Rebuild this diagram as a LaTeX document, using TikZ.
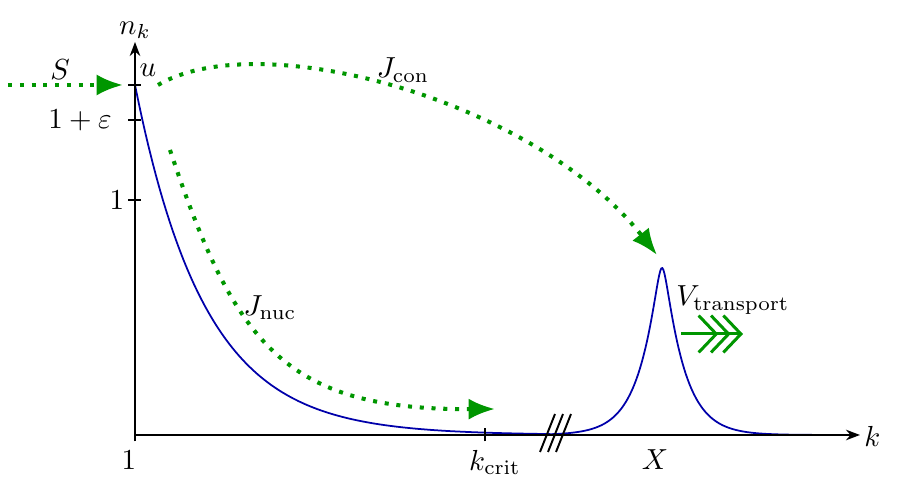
\documentclass[tikz,border=0pt]{standalone}
\usetikzlibrary{arrows.meta}
\definecolor{fluxgreen}{RGB}{0,150,0}
\definecolor{curveblue}{RGB}{0,0,170}
\tikzset{
  axis/.style={line width=1.1pt,-{Stealth[length=8pt,width=6pt]}},
  tick/.style={line width=1.1pt},
  flux/.style={fluxgreen,line width=2.3pt,dash pattern=on 2.3pt off 4.4pt,-{Latex[length=15pt,width=12pt]}},
  profile/.style={curveblue,line width=1pt},
}
\begin{document}
\begin{tikzpicture}[every node/.style={scale=1.65}]
      \useasboundingbox (-2.7,-1.04) rectangle (15.3,8.7);
      \coordinate (o) at (0,0);
      \coordinate (ytop) at (0,7.86);
      \coordinate (xend) at (14.5,0);
      % profile n_k
      \draw[profile] plot[domain=0:8.3,samples=120] (\x,{7*exp(-\x/1.4)});
      \draw[profile] plot[domain=8.3:14.3,samples=300] (\x,{3.34*exp((0.08-sqrt((\x-10.54)^2+0.0064))/0.4)});
      % axes
      \draw[axis] (o) -- (ytop);
      \draw[axis] (o) -- (xend);
      \draw
        (0,8.1) node (nk){$n_k$}
        (14.75,-0.02) node (k){$k$}
        (0.26,7.3) node (u){$u$}
        (-1.1,6.3) node (eps){$1+\varepsilon$}
        (-0.36,4.7) node (one){$1$}
        (-0.12,-0.5) node (kone){$1$}
        (7.2,-0.55) node (kcrit){$k_{\mathrm{crit}}$}
        (10.4,-0.5) node (X){$X$};
      \foreach \y in {7,6.3,4.7}
        \draw[tick] (-0.13,\y) -- (0.13,\y);
      \foreach \x in {0,7}
        \draw[tick] (\x,-0.13) -- (\x,0.13);
      % break
      \foreach \dx in {0,0.16,0.32}
        \draw[tick] (8.1+\dx,-0.34) -- (8.4+\dx,0.42);
      % fluxes
      \coordinate (s0) at (-2.54,7);
      \coordinate (s1) at (-0.24,7);
      \coordinate (c0) at (0.46,7);
      \coordinate (c1) at (10.44,3.6);
      \coordinate (n0) at (0.7,5.7);
      \coordinate (n1) at (7.2,0.52);
      \coordinate (v0) at (10.92,2.02);
      \coordinate (v1) at (12.16,2.02);
      \draw[flux] (s0) -- (s1);
      \draw[flux] (c0) .. controls (2.5,8.2) and (8,6.7) .. (c1);
      \draw[flux] (n0) .. controls (2.0,1.8) and (3.0,0.5) .. (n1);
      \draw[fluxgreen,line width=1.7pt,-{Straight Barb[length=10pt,width=21pt,sep=-5pt]Straight Barb[length=10pt,width=21pt,sep=-5pt]Straight Barb[length=10pt,width=21pt]}] (v0) -- (v1);
      \draw
        (-1.5,7.3) node (S){$S$}
        (5.36,7.3) node (Jcon){$J_{\mathrm{con}}$}
        (2.7,2.55) node (Jnuc){$J_{\mathrm{nuc}}$}
        (11.96,2.7) node (V){$V_{\mathrm{transport}}$};
    \end{tikzpicture}
\end{document}
